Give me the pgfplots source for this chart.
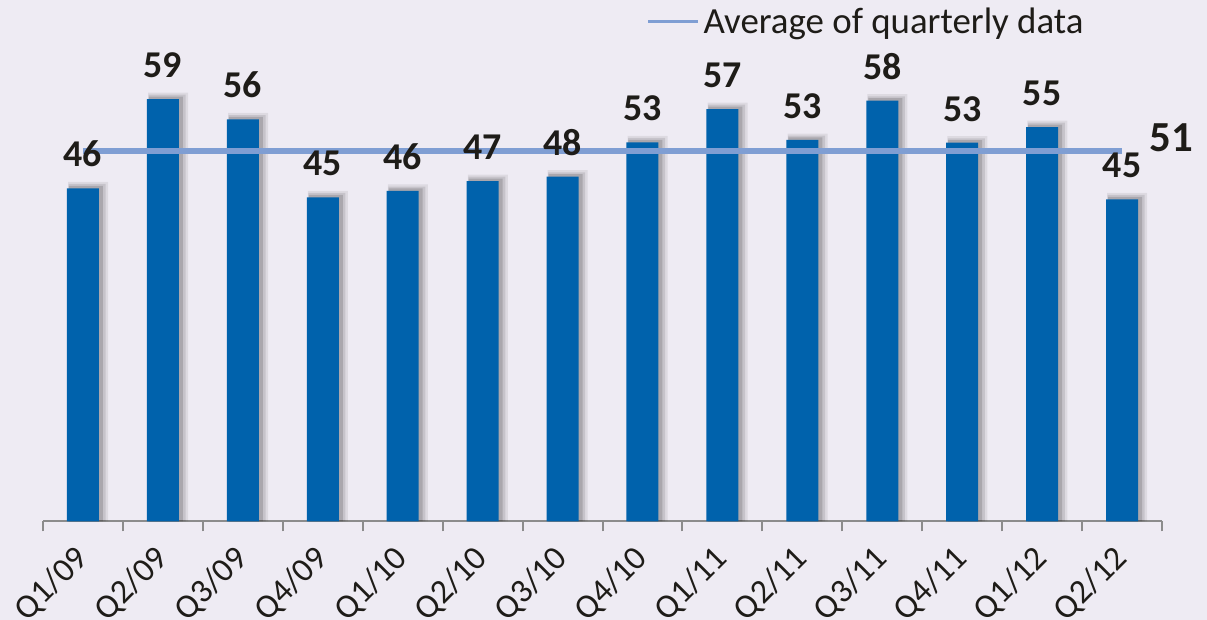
\documentclass[border=0pt]{standalone}
\usepackage{fontspec}
\setmainfont{Carlito}
\usepackage{pgfplots}
\usepackage{pgfplotstable}
\pgfplotsset{compat=1.18}
\definecolor{bg}{HTML}{EEEBF3}
\definecolor{barblue}{HTML}{0062AC}
\definecolor{avgline}{HTML}{7F9ED3}
\definecolor{txt}{HTML}{1E1C18}
\definecolor{axgray}{HTML}{8C8C8C}

\pgfplotstableread{
x y lab
0 46.25 46
1 58.65 59
2 55.83 56
3 45.00 45
4 45.88 46
5 47.26 47
6 47.86 48
7 52.64 53
8 57.26 57
9 52.96 53
10 58.42 58
11 52.58 53
12 54.76 55
13 44.72 45
}\datatable

\pgfplotstableread{
x y
0 51.45
13 51.45
}\avgtable

\begin{document}
\begin{tikzpicture}
\fill[bg] (0,0) rectangle (603.5bp,310bp);
\begin{axis}[
  at={(21.5bp,49.35bp)}, anchor=south west,
  scale only axis, width=559.5bp, height=255.6bp,
  xmin=-0.5, xmax=13.5, ymin=0, ymax=71,
  hide y axis,
  axis x line*=bottom,
  x axis line style={axgray, line width=1bp},
  xtick={0,...,13},
  xticklabels={Q1/09,Q2/09,Q3/09,Q4/09,Q1/10,Q2/10,Q3/10,Q4/10,Q1/11,Q2/11,Q3/11,Q4/11,Q1/12,Q2/12},
  major tick length=0pt,
  minor xtick={-0.5,0.5,1.5,2.5,3.5,4.5,5.5,6.5,7.5,8.5,9.5,10.5,11.5,12.5,13.5},
  minor tick length=5bp,
  tick align=outside,
  minor x tick style={axgray, line width=1bp},
  major x tick style={draw=none},
  xticklabel style={rotate=45, anchor=east, inner sep=0pt, font=\fontsize{17}{19}\selectfont, text=txt},
  xticklabel shift=16bp,
  clip=false,
  legend style={at={(0.539,0.977)}, anchor=west, draw=none, fill=none, inner sep=0pt,
    font=\fontsize{18.5}{20}\selectfont, text=txt},
  legend image code/.code={\draw[#1, line width=1.5bp] (0bp,0bp) -- (25bp,0bp);},
]
% shadows
\addplot[ybar, bar width=20bp, bar shift=2.6bp, fill=black, fill opacity=0.07, draw=none, forget plot]
  table[x=x, y expr=\thisrow{y}+0.9] {\datatable};
\addplot[ybar, bar width=18.5bp, bar shift=2.1bp, fill=black, fill opacity=0.10, draw=none, forget plot]
  table[x=x, y expr=\thisrow{y}+0.6] {\datatable};
\addplot[ybar, bar width=17bp, bar shift=1.5bp, fill=black, fill opacity=0.14, draw=none, forget plot]
  table[x=x, y expr=\thisrow{y}+0.35] {\datatable};
% bars
\addplot[ybar, bar width=16bp, bar shift=0pt, fill=barblue, draw=none, forget plot]
  table[x=x, y=y] {\datatable};
% average line
\addplot[avgline, line width=3bp] table[x=x, y=y] {\avgtable};
\addlegendentry{Average of quarterly data}
% labels
\addplot[ybar, bar width=16bp, bar shift=0pt, draw=none, fill=none, forget plot,
  nodes near coords, point meta=explicit symbolic,
  every node near coord/.append style={font=\bfseries\fontsize{19}{21}\selectfont, text=txt,
    inner sep=0pt, anchor=south, yshift=10.5bp}]
  table[x=x, y=y, meta=lab] {\datatable};
\node[anchor=base west, inner sep=0pt, font=\bfseries\fontsize{21.5}{23}\selectfont, text=txt]
  at (axis cs:13.34,51.3) {51};
\end{axis}
\pgfresetboundingbox
\useasboundingbox (0,0) rectangle (603.5bp,310bp);
\end{tikzpicture}
\end{document}
